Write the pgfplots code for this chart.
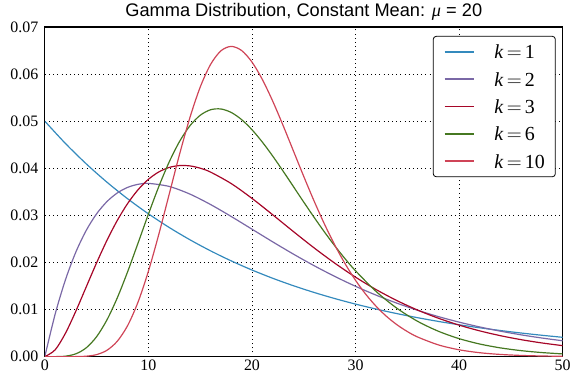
\documentclass[border=0pt]{standalone}
\usepackage{fontspec}
\setmainfont{Liberation Serif}
\setsansfont{Liberation Sans}
\usepackage{pgfplots}
\pgfplotsset{compat=1.18}
\definecolor{cA}{HTML}{348ABD}
\definecolor{cB}{HTML}{7A68A6}
\definecolor{cC}{HTML}{A60628}
\definecolor{cD}{HTML}{467821}
\definecolor{cE}{HTML}{CF4457}
\begin{document}
\begin{tikzpicture}
\begin{axis}[
  scale only axis, width=520pt, height=331pt,
  xmin=0, xmax=50, ymin=0, ymax=0.07,
  xtick={0,10,20,30,40,50},
  ytick={0,0.01,0.02,0.03,0.04,0.05,0.06,0.07},
  scaled y ticks=false,
  yticklabel style={/pgf/number format/.cd, fixed, fixed zerofill, precision=2, assume math mode=true},
  xticklabel style={/pgf/number format/assume math mode=true},
  ticklabel style={font=\fontsize{16}{19}\selectfont},
  yticklabel shift=3pt,
  major tick length=0pt,
  grid=major,
  major grid style={black, line width=0.7pt, dash pattern=on 1pt off 3.2pt},
  axis line style={line width=1.2pt},
  title={Gamma Distribution, Constant Mean: {\rmfamily\itshape μ} = 20},
  title style={font=\sffamily\fontsize{18.3}{22}\selectfont, at={(0.5,1)}, anchor=base, yshift=4.5pt},
  legend style={at={(0.98654,0.97281)}, anchor=north east, draw=black, line width=0.8pt,
    rounded corners=3pt, font=\fontsize{20}{24}\selectfont,
    inner xsep=10.5pt, inner ysep=8.5pt, row sep=13.5pt, column sep=20pt,
    nodes={inner sep=0pt, text height=14pt, text depth=0pt}},
  legend cell align=left,
  legend image code/.code={\draw[#1, line width=1.8pt] (0pt,0pt) -- (29pt,0pt);},
  every axis plot/.append style={line width=1.2pt, smooth},
]
\addplot[cA] coordinates {
(0,0.05) (2,0.045242) (4,0.040937) (6,0.037041) (8,0.033516) (10,0.030327)
(12,0.027441) (14,0.024829) (16,0.022466) (18,0.020328) (20,0.018394)
(22,0.016644) (24,0.015060) (26,0.013627) (28,0.012330) (30,0.011157)
(32,0.010095) (34,0.009134) (36,0.008265) (38,0.007478) (40,0.006767)
(42,0.006123) (44,0.005540) (46,0.005013) (48,0.004536) (50,0.004104)};
\addlegendentry{\textit{k}\,$=$\,1}
\addplot[cB] coordinates {
(0,0) (1,0.009048) (2,0.016375) (3,0.022225) (4,0.026813) (5,0.030327)
(6,0.032929) (7,0.034761) (8,0.035946) (9,0.036591) (10,0.036788)
(12,0.036143) (14,0.034524) (16,0.032304) (18,0.029754) (20,0.027067)
(22,0.024377) (24,0.021772) (26,0.019311) (28,0.017027) (30,0.014936)
(32,0.013044) (34,0.011347) (36,0.009837) (38,0.008501) (40,0.007326)
(42,0.006298) (44,0.005402) (46,0.004624) (48,0.003950) (50,0.003369)};
\addlegendentry{\textit{k}\,$=$\,2}
\addplot[cC] coordinates {
(0,0) (1,0.001452) (2,0.005001) (3,0.009684) (4,0.014818) (5,0.019928)
(6,0.024699) (7,0.028936) (8,0.032529) (9,0.035435) (10,0.037653)
(11,0.039214) (12,0.040168) (13,0.040575) (14,0.040502) (15,0.040019)
(16,0.039190) (18,0.036745) (20,0.033606) (22,0.030124) (24,0.026559)
(26,0.023091) (28,0.019840) (30,0.016872) (32,0.014221) (34,0.011894)
(36,0.009879) (38,0.008153) (40,0.006693) (42,0.005465) (44,0.004443)
(46,0.003599) (48,0.002904) (50,0.002333)};
\addlegendentry{\textit{k}\,$=$\,3}
\addplot[cD] coordinates {
(0,0) (1,0.0000045) (2,0.000107) (3,0.000600) (4,0.001874) (5,0.004236)
(6,0.007809) (7,0.012503) (8,0.018059) (9,0.024108) (10,0.030246)
(11,0.036086) (12,0.041304) (13,0.045658) (14,0.048996) (15,0.051248)
(16,0.052424) (17,0.052588) (18,0.051847) (19,0.050332) (20,0.048188)
(21,0.045560) (22,0.042592) (23,0.039406) (24,0.036115) (25,0.032812)
(26,0.029574) (27,0.026459) (28,0.023511) (29,0.020758) (30,0.018218)
(32,0.013806) (34,0.010260) (36,0.007493) (38,0.005389) (40,0.003822)
(42,0.002677) (44,0.001854) (46,0.001271) (48,0.000863) (50,0.000581)};
\addlegendentry{\textit{k}\,$=$\,6}
\addplot[cE] coordinates {
(0,0) (1,0) (2,0.0000005) (3,0.0000118) (4,0.0000955) (5,0.000431)
(6,0.0013502) (7,0.0032793) (8,0.0066157) (9,0.011582) (10,0.018133)
(11,0.025933) (12,0.034420) (13,0.042904) (14,0.050702) (15,0.057220)
(16,0.062039) (17,0.064935) (18,0.065878) (19,0.065002) (20,0.062555)
(21,0.058859) (22,0.054263) (23,0.049102) (24,0.043682) (25,0.038258)
(26,0.033027) (27,0.028135) (28,0.023672) (29,0.019690) (30,0.016203)
(31,0.013202) (32,0.010656) (33,0.008525) (34,0.006765) (35,0.005326)
(36,0.004163) (38,0.002491) (40,0.001454) (42,0.000830) (44,0.000464)
(46,0.000255) (48,0.000137) (50,0.000073)};
\addlegendentry{\textit{k}\,$=$\,10}
\end{axis}
\path ([xshift=-45pt,yshift=-25pt]current axis.south west) rectangle ([xshift=9pt,yshift=25pt]current axis.north east);
\end{tikzpicture}
\end{document}
